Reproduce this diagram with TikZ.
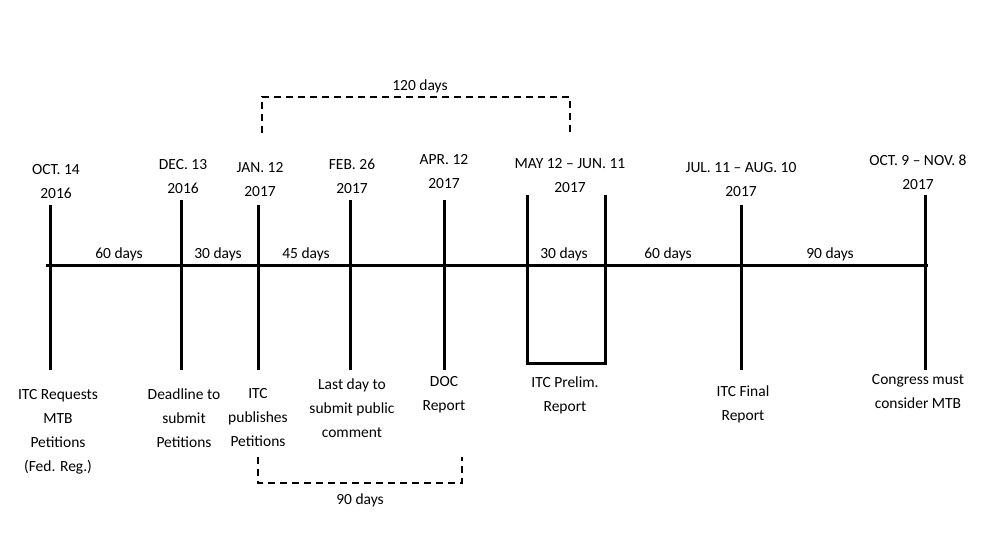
\documentclass[tikz,border=0pt]{standalone}
\usepackage{fontspec}
\setmainfont{Carlito}
\usetikzlibrary{positioning}
\begin{document}
\begin{tikzpicture}[x=1pt,y=-1pt]
\tikzset{
    every node/.style = {align=center, font=\fontsize{15.5}{24}\selectfont, inner sep=1pt},
    tick/.style = {line width=3pt},
    bracket/.style = {line width=1.6pt, dash pattern=on 7pt off 5pt},
    gap/.style = {anchor=south, inner sep=2pt}
}
\useasboundingbox (0,0) rectangle (994,541);

% -------------------------------------------------------
\coordinate (start) at (46,265);
\coordinate (stop) at (928,265);

\coordinate (t1) at (50,265);
\coordinate (t2) at (181,265);
\coordinate (t3) at (258,265);
\coordinate (t4) at (350,265);
\coordinate (t5) at (444,265);
\coordinate (t6) at (527,265);
\coordinate (t7) at (605,265);
\coordinate (t8) at (741,265);
\coordinate (t9) at (925,265);

\node (d1) at (56,182) {OCT. 14\\2016};
\node (d2) at (183,177) {DEC. 13\\2016};
\node (d3) at (260,180) {JAN. 12\\2017};
\node (d4) at (352,176) {FEB. 26\\2017};
\node (d5) at (444,172) {APR. 12\\2017};
\node (d6) at (570,176) {MAY 12 -- JUN. 11\\2017};
\node (d7) at (741,180) {JUL. 11 -- AUG. 10\\2017};
\node (d8) at (918,172) {OCT. 9 -- NOV. 8\\2017};

\node (l1) at (58,432) {ITC Requests\\MTB\\Petitions\\(Fed. Reg.)};
\node (l2) at (184,418) {Deadline to\\submit\\Petitions};
\node (l3) at (258,418) {ITC\\publishes\\Petitions};
\node (l4) at (352,408) {Last day to\\submit public\\comment};
\node (l5) at (444,395) {DOC\\Report};
\node (l6) at (565,395) {ITC Prelim.\\Report};
\node (l7) at (743,404) {ITC Final\\Report};
\node (l8) at (918,392) {Congress must\\consider MTB};

\node[gap] (g1) at (119,263) {60 days};
\node[gap] (g2) at (218,263) {30 days};
\node[gap] (g3) at (306,263) {45 days};
\node[gap] (g4) at (564,263) {30 days};
\node[gap] (g5) at (668,263) {60 days};
\node[gap] (g6) at (830,263) {90 days};

\node (top) at (420,86) {120 days};
\node (bottom) at (360,500) {90 days};

% -------------------------------------------------------
\draw[tick] (start) -- (stop);
\draw[tick] (t1) ++(0,-60) -- ++(0,165);
\draw[tick] (t2) ++(0,-65) -- ++(0,170);
\draw[tick] (t3) ++(0,-60) -- ++(0,165);
\draw[tick] (t4) ++(0,-65) -- ++(0,170);
\draw[tick] (t5) ++(0,-65) -- ++(0,170);
\draw[tick] (t6) ++(0,-70) |- (605,363) -- ++(0,-168);
\draw[tick] (t8) ++(0,-60) -- ++(0,165);
\draw[tick] (t9) ++(0,-70) -- ++(0,175);

\draw[bracket] (262,133) -- (262,97) -- (570,97) -- (570,133);
\draw[bracket] (258,457) -- (258,483) -- (462,483) -- (462,457);
\end{tikzpicture}
\end{document}
